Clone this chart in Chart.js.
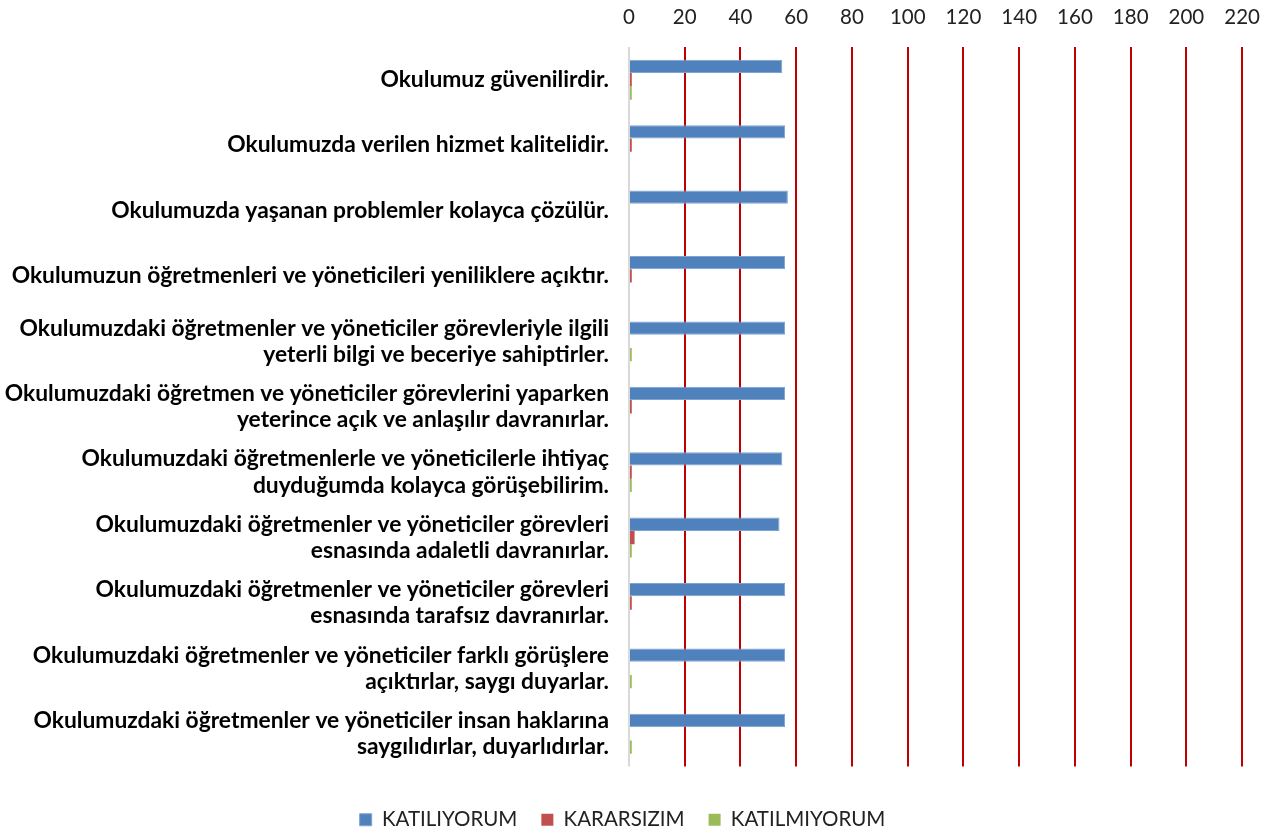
<!DOCTYPE html>
<html>
<head>
<meta charset="utf-8">
<script src="https://cdn.jsdelivr.net/npm/chart.js@4/dist/chart.umd.min.js"></script>
<style>
html,body{margin:0;padding:0;background:#fff;}
#wrap{width:1277px;height:835px;position:relative;}
</style>
</head>
<body>
<div id="wrap"><canvas id="c" width="1277" height="835"></canvas></div>
<script>
const categories = [
  ["Okulumuz güvenilirdir."],
  ["Okulumuzda verilen hizmet kalitelidir."],
  ["Okulumuzda yaşanan problemler kolayca çözülür."],
  ["Okulumuzun öğretmenleri ve yöneticileri yeniliklere açıktır."],
  ["Okulumuzdaki öğretmenler ve yöneticiler görevleriyle ilgili", "yeterli bilgi ve beceriye sahiptirler."],
  ["Okulumuzdaki öğretmen ve yöneticiler görevlerini yaparken", "yeterince açık ve anlaşılır davranırlar."],
  ["Okulumuzdaki öğretmenlerle ve yöneticilerle ihtiyaç", "duyduğumda kolayca görüşebilirim."],
  ["Okulumuzdaki öğretmenler ve yöneticiler görevleri", "esnasında adaletli davranırlar."],
  ["Okulumuzdaki öğretmenler ve yöneticiler görevleri", "esnasında tarafsız davranırlar."],
  ["Okulumuzdaki öğretmenler ve yöneticiler farklı görüşlere", "açıktırlar, saygı duyarlar."],
  ["Okulumuzdaki öğretmenler ve yöneticiler insan haklarına", "saygılıdırlar, duyarlıdırlar."]
];
const katiliyorum  = [55, 56, 57, 56, 56, 56, 55, 54, 56, 56, 56];
const kararsizim   = [1, 1, 0, 1, 0, 1, 1, 2, 1, 0, 0];
const katilmiyorum = [1, 0, 0, 0, 1, 0, 1, 1, 0, 1, 1];
const xTicks = [0, 20, 40, 60, 80, 100, 120, 140, 160, 180, 200, 220];

const FONT = "Lato, 'Open Sans', sans-serif";

new Chart(document.getElementById('c'), {
  type: 'bar',
  data: {
    labels: categories,
    datasets: [
      { label: 'KATILIYORUM', data: katiliyorum, backgroundColor: '#4F81BD', borderColor: '#7FA3D0', borderWidth: 1 },
      { label: 'KARARSIZIM', data: kararsizim, backgroundColor: '#C0504D', borderWidth: 0 },
      { label: 'KATILMIYORUM', data: katilmiyorum, backgroundColor: '#9BBB59', borderWidth: 0 }
    ]
  },
  options: {
    indexAxis: 'y',
    responsive: false,
    animation: false,
    layout: { padding: { left: 0, right: 32, top: 0, bottom: -5 } },
    datasets: { bar: { categoryPercentage: 0.61, barPercentage: 1.0 } },
    scales: {
      x: {
        position: 'top',
        min: 0, max: 220,
        afterBuildTicks: (s) => { s.ticks = xTicks.map(v => ({ value: v })); },
        afterFit: (s) => { s.height = 47; },
        ticks: { color: '#222', font: { family: FONT, size: 20.5 }, padding: 17 },
        grid: {
          drawTicks: false,
          color: (ctx) => ctx.tick && ctx.tick.value === 0 ? '#D9D9D9' : '#C00000',
          lineWidth: 2
        },
        border: { display: false }
      },
      spacer: {
        type: 'linear',
        axis: 'x',
        position: 'bottom',
        display: true,
        min: 0, max: 220,
        afterFit: (s) => { s.height = 19; },
        ticks: { display: false },
        grid: { display: false, drawTicks: false },
        border: { display: false }
      },
      y: {
        afterFit: (s) => { s.width = 629; },
        ticks: { color: '#000', font: { family: FONT, size: 22.8, weight: 'bold', lineHeight: 1.15 }, padding: 20, autoSkip: false },
        grid: { display: false, drawTicks: false },
        border: { display: false }
      }
    },
    plugins: {
      legend: {
        position: 'bottom',
        labels: { color: '#222', font: { family: FONT, size: 20.5 }, boxWidth: 12, boxHeight: 12, padding: 24 }
      },
      tooltip: { enabled: false }
    }
  }
});
</script>
</body>
</html>
